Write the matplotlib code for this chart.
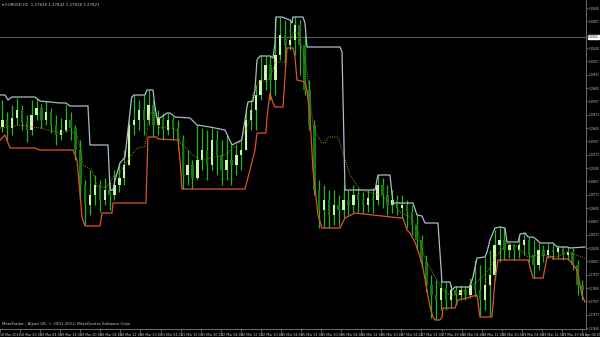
import numpy as np
import matplotlib
matplotlib.use('Agg')
from matplotlib import pyplot as plt

# EURUSD candles, one per 2 hours
opens = [1.2945, 1.2952, 1.2944, 1.2954, 1.2962, 1.2950, 1.2942, 1.2957, 1.2964, 1.2952,
         1.2960, 1.2947, 1.2937, 1.2942, 1.2952, 1.2944, 1.2922, 1.2887, 1.2867, 1.2877,
         1.2887, 1.2872, 1.2882, 1.2877, 1.2887, 1.2894, 1.2907, 1.2947, 1.2952, 1.2962,
         1.2952, 1.2967, 1.2947, 1.2954, 1.2942, 1.2952, 1.2944, 1.2932, 1.2897, 1.2907,
         1.2894, 1.2912, 1.2922, 1.2907, 1.2932, 1.2917, 1.2902, 1.2912, 1.2907, 1.2917,
         1.2922, 1.2952, 1.2962, 1.2977, 1.2992, 1.3007, 1.2992, 1.3017, 1.3037, 1.3027,
         1.3032, 1.3047, 1.3027, 1.2982, 1.2947, 1.2882, 1.2862, 1.2872, 1.2857, 1.2867,
         1.2862, 1.2872, 1.2867, 1.2877, 1.2872, 1.2867, 1.2874, 1.2872, 1.2887, 1.2877,
         1.2867, 1.2872, 1.2864, 1.2867, 1.2860, 1.2847, 1.2832, 1.2810, 1.2787, 1.2777,
         1.2772, 1.2784, 1.2772, 1.2782, 1.2777, 1.2782, 1.2777, 1.2787, 1.2782, 1.2772,
         1.2787, 1.2797, 1.2827, 1.2832, 1.2822, 1.2827, 1.2822, 1.2827, 1.2832, 1.2817,
         1.2807, 1.2822, 1.2817, 1.2822, 1.2820, 1.2824, 1.2817, 1.2820, 1.2807, 1.2787]
closes = [1.2952, 1.2944, 1.2954, 1.2962, 1.2950, 1.2942, 1.2957, 1.2964, 1.2952, 1.2960,
          1.2947, 1.2937, 1.2942, 1.2952, 1.2944, 1.2922, 1.2887, 1.2867, 1.2877, 1.2887,
          1.2872, 1.2882, 1.2877, 1.2887, 1.2894, 1.2907, 1.2947, 1.2952, 1.2962, 1.2952,
          1.2967, 1.2947, 1.2954, 1.2942, 1.2952, 1.2944, 1.2932, 1.2897, 1.2907, 1.2894,
          1.2912, 1.2922, 1.2907, 1.2932, 1.2917, 1.2902, 1.2912, 1.2907, 1.2917, 1.2922,
          1.2952, 1.2962, 1.2977, 1.2992, 1.3007, 1.2992, 1.3017, 1.3037, 1.3027, 1.3032,
          1.3047, 1.3027, 1.2982, 1.2947, 1.2882, 1.2862, 1.2872, 1.2857, 1.2867, 1.2862,
          1.2872, 1.2867, 1.2877, 1.2872, 1.2867, 1.2874, 1.2872, 1.2887, 1.2877, 1.2867,
          1.2872, 1.2864, 1.2867, 1.2860, 1.2847, 1.2832, 1.2810, 1.2787, 1.2777, 1.2772,
          1.2784, 1.2772, 1.2782, 1.2777, 1.2782, 1.2777, 1.2787, 1.2782, 1.2772, 1.2787,
          1.2797, 1.2827, 1.2832, 1.2822, 1.2827, 1.2822, 1.2827, 1.2832, 1.2817, 1.2807,
          1.2822, 1.2817, 1.2822, 1.2820, 1.2824, 1.2817, 1.2820, 1.2807, 1.2787, 1.2782]
highs = [1.2972, 1.2960, 1.2967, 1.2974, 1.2967, 1.2957, 1.2972, 1.2974, 1.2968, 1.2971,
         1.2964, 1.2957, 1.2954, 1.2967, 1.2960, 1.2947, 1.2932, 1.2892, 1.2902, 1.2897,
         1.2892, 1.2894, 1.2890, 1.2902, 1.2909, 1.2922, 1.2952, 1.2977, 1.2972, 1.2977,
         1.2982, 1.2972, 1.2962, 1.2959, 1.2959, 1.2955, 1.2952, 1.2937, 1.2922, 1.2912,
         1.2947, 1.2944, 1.2942, 1.2944, 1.2942, 1.2932, 1.2937, 1.2927, 1.2927, 1.2932,
         1.2962, 1.2972, 1.2987, 1.3016, 1.3016, 1.3017, 1.3055, 1.3055, 1.3052, 1.3052,
         1.3055, 1.3052, 1.3037, 1.2992, 1.2952, 1.2892, 1.2887, 1.2882, 1.2882, 1.2877,
         1.2887, 1.2882, 1.2887, 1.2884, 1.2880, 1.2882, 1.2884, 1.2897, 1.2894, 1.2887,
         1.2882, 1.2877, 1.2877, 1.2872, 1.2867, 1.2857, 1.2837, 1.2817, 1.2797, 1.2792,
         1.2792, 1.2790, 1.2787, 1.2786, 1.2787, 1.2786, 1.2794, 1.2812, 1.2807, 1.2814,
         1.2822, 1.2842, 1.2846, 1.2844, 1.2829, 1.2828, 1.2837, 1.2839, 1.2835, 1.2832,
         1.2829, 1.2827, 1.2829, 1.2828, 1.2827, 1.2826, 1.2825, 1.2824, 1.2812, 1.2792]
lows = [1.2940, 1.2932, 1.2937, 1.2947, 1.2942, 1.2930, 1.2937, 1.2952, 1.2944, 1.2947,
        1.2939, 1.2927, 1.2932, 1.2940, 1.2932, 1.2912, 1.2872, 1.2847, 1.2857, 1.2867,
        1.2860, 1.2867, 1.2862, 1.2872, 1.2880, 1.2887, 1.2907, 1.2937, 1.2942, 1.2937,
        1.2947, 1.2935, 1.2937, 1.2932, 1.2937, 1.2932, 1.2922, 1.2883, 1.2887, 1.2883,
        1.2892, 1.2902, 1.2892, 1.2902, 1.2897, 1.2887, 1.2892, 1.2887, 1.2897, 1.2902,
        1.2922, 1.2942, 1.2942, 1.2972, 1.2982, 1.2972, 1.2977, 1.3012, 1.3007, 1.3022,
        1.3017, 1.2997, 1.2977, 1.2942, 1.2877, 1.2844, 1.2844, 1.2844, 1.2847, 1.2846,
        1.2854, 1.2857, 1.2859, 1.2860, 1.2859, 1.2860, 1.2859, 1.2867, 1.2864, 1.2857,
        1.2859, 1.2857, 1.2854, 1.2844, 1.2837, 1.2822, 1.2804, 1.2780, 1.2754, 1.2752,
        1.2762, 1.2762, 1.2764, 1.2767, 1.2772, 1.2772, 1.2774, 1.2775, 1.2756, 1.2762,
        1.2756, 1.2792, 1.2810, 1.2812, 1.2814, 1.2812, 1.2814, 1.2817, 1.2810, 1.2794,
        1.2802, 1.2810, 1.2814, 1.2813, 1.2814, 1.2812, 1.2812, 1.2802, 1.2777, 1.2772]

# channel lines, (bar, price) turning points
upper_t = [-0.5, 0.53, 1.15, 1.97, 6.69, 7.71, 11.82, 13.05, 13.87, 17.56, 17.97, 21.67, 22.08,
           22.69, 23.10, 24.13, 25.15, 26.53, 27.00, 29.26, 29.67, 30.90, 31.31, 31.72, 32.34,
           33.77, 34.39, 35.41, 38.49, 39.93, 42.59, 45.67, 47.11, 49.10, 49.77, 50.18, 50.39,
           51.41, 51.82, 52.24, 52.85, 54.90, 55.52, 55.93, 56.14, 57.37, 59.01, 59.42, 59.62,
           61.67, 62.08, 62.49, 69.27, 69.68, 70.29, 76.45, 77.06, 79.52, 80.14, 84.24, 85.06,
           86.09, 86.70, 89.37, 90.19, 91.83, 92.24, 92.86, 95.94, 96.55, 97.37, 99.02, 99.43,
           100.04, 101.07, 102.09, 103.12, 103.53, 105.81, 106.21, 107.24, 107.85, 108.88,
           109.70, 110.30, 112.97, 113.79, 115.84, 116.46, 119.53]
upper_p = [1.2977, 1.2977, 1.2972, 1.2975, 1.2975, 1.2971, 1.2969, 1.2969, 1.2966, 1.2966,
           1.2927, 1.2927, 1.2882, 1.2882, 1.2892, 1.2909, 1.2915, 1.2975, 1.2977, 1.2977,
           1.2982, 1.2982, 1.2965, 1.2954, 1.2954, 1.2959, 1.2959, 1.2955, 1.2954, 1.2947,
           1.2945, 1.2942, 1.2927, 1.2932, 1.2952, 1.2965, 1.2970, 1.2971, 1.2982, 1.3012,
           1.3016, 1.3016, 1.3014, 1.3029, 1.3055, 1.3055, 1.3052, 1.3049, 1.3055, 1.3055,
           1.3049, 1.3025, 1.3025, 1.3020, 1.2882, 1.2882, 1.2897, 1.2897, 1.2869, 1.2869,
           1.2857, 1.2856, 1.2849, 1.2849, 1.2790, 1.2790, 1.2782, 1.2785, 1.2785, 1.2795,
           1.2814, 1.2815, 1.2820, 1.2832, 1.2844, 1.2845, 1.2844, 1.2830, 1.2830, 1.2838,
           1.2839, 1.2835, 1.2835, 1.2832, 1.2829, 1.2829, 1.2825, 1.2825, 1.2824, 1.2825]
lower_t = [-0.5, 0.53, 1.56, 6.69, 7.71, 14.49, 15.31, 16.33, 16.95, 20.03, 20.44, 22.49, 22.69,
           29.46, 29.87, 31.72, 31.92, 36.03, 36.44, 36.85, 49.77, 50.80, 51.82, 52.24, 54.08,
           54.29, 54.90, 55.52, 55.93, 57.57, 57.98, 58.39, 59.62, 60.03, 60.44, 62.08, 62.49,
           63.11, 63.73, 64.75, 65.57, 69.27, 70.29, 72.34, 81.57, 82.19, 83.01, 83.63, 84.65,
           85.68, 86.29, 87.11, 87.73, 88.34, 88.75, 89.78, 90.19, 90.40, 92.86, 93.47, 95.32,
           95.94, 97.37, 97.99, 100.45, 101.07, 101.48, 101.69, 107.85, 108.88, 110.93, 111.74,
           112.77, 112.97, 116.05, 116.87, 117.89, 118.92, 119.53]
lower_p = [1.2932, 1.2937, 1.2924, 1.2924, 1.2922, 1.2922, 1.2912, 1.2855, 1.2846, 1.2846,
           1.2859, 1.2859, 1.2869, 1.2869, 1.2935, 1.2935, 1.2933, 1.2932, 1.2912, 1.2883,
           1.2883, 1.2902, 1.2922, 1.2939, 1.2939, 1.2955, 1.2979, 1.2969, 1.2965, 1.2965,
           1.2995, 1.3024, 1.3024, 1.3015, 1.2992, 1.2990, 1.2982, 1.2955, 1.2902, 1.2857,
           1.2844, 1.2844, 1.2854, 1.2859, 1.2854, 1.2854, 1.2842, 1.2839, 1.2830, 1.2815,
           1.2804, 1.2782, 1.2765, 1.2755, 1.2752, 1.2752, 1.2755, 1.2764, 1.2764, 1.2772,
           1.2774, 1.2775, 1.2777, 1.2755, 1.2755, 1.2792, 1.2805, 1.2812, 1.2812, 1.2794,
           1.2794, 1.2815, 1.2815, 1.2813, 1.2813, 1.2809, 1.2802, 1.2777, 1.2770]
mid_t = [-0.5, 3.61, 7.71, 11.82, 13.87, 15.31, 15.92, 16.54, 17.56, 18.38, 19.00, 19.41, 21.48,
         22.08, 22.69, 24.13, 26.18, 27.62, 29.26, 29.87, 30.28, 31.31, 31.72, 32.34, 33.77,
         35.82, 36.44, 37.46, 39.11, 40.54, 42.59, 45.67, 48.75, 50.80, 51.41, 52.85, 54.29,
         55.31, 55.93, 57.98, 58.39, 59.42, 59.62, 60.65, 61.06, 61.67, 62.49, 63.11, 63.73,
         64.55, 65.57, 66.19, 66.80, 68.86, 69.88, 71.32, 73.37, 77.47, 80.55, 81.57, 83.63,
         85.06, 86.29, 87.73, 89.17, 90.40, 91.83, 93.27, 95.32, 97.37, 99.43, 100.66, 101.48,
         102.09, 103.53, 105.58, 107.85, 110.30, 113.79, 115.84, 119.53]
mid_p = [1.2944, 1.2947, 1.2944, 1.2939, 1.2942, 1.2937, 1.2925, 1.2907, 1.2904, 1.2902,
         1.2892, 1.2885, 1.2885, 1.2890, 1.2895, 1.2900, 1.2915, 1.2924, 1.2925, 1.2949,
         1.2959, 1.2959, 1.2949, 1.2944, 1.2945, 1.2942, 1.2929, 1.2925, 1.2917, 1.2912,
         1.2914, 1.2917, 1.2930, 1.2952, 1.2979, 1.2992, 1.2990, 1.2999, 1.3010, 1.3010,
         1.3035, 1.3034, 1.3039, 1.3039, 1.3032, 1.3019, 1.3002, 1.2975, 1.2947, 1.2937,
         1.2929, 1.2929, 1.2935, 1.2935, 1.2919, 1.2897, 1.2882, 1.2877, 1.2867, 1.2860,
         1.2855, 1.2845, 1.2819, 1.2804, 1.2792, 1.2782, 1.2777, 1.2777, 1.2784, 1.2790,
         1.2800, 1.2810, 1.2817, 1.2820, 1.2829, 1.2825, 1.2815, 1.2817, 1.2815, 1.2820, 1.2814]

hline_price = 1.3035
date_labels = ['18 Mar 2013', '18 Mar 20:00', '19 Mar 04:00', '19 Mar 12:00', '19 Mar 20:00',
               '20 Mar 04:00', '20 Mar 12:00', '20 Mar 20:00', '21 Mar 04:00', '21 Mar 12:00',
               '21 Mar 20:00', '22 Mar 04:00', '22 Mar 12:00', '22 Mar 20:00', '25 Mar 04:00',
               '25 Mar 12:00', '25 Mar 20:00', '26 Mar 04:00', '26 Mar 12:00', '26 Mar 20:00',
               '27 Mar 04:00', '27 Mar 12:00', '27 Mar 20:00', '28 Mar 04:00', '28 Mar 12:00',
               '28 Mar 20:00', '29 Mar 04:00', '29 Mar 12:00', '29 Mar 20:00', '1 Apr 04:00']

TXT = '#c8c8c8'
GRID = '#808080'
SMALL = 2.3
PRICE_FS = 1.9

fig = plt.figure(figsize=(6, 3.37), dpi=100, facecolor='black')
ax = fig.add_axes([0, 8 / 337, 586 / 600, 329 / 337], facecolor='black')

o = np.array(opens)
c = np.array(closes)
x = np.arange(len(c))
up = c >= o

ax.vlines(x, lows, highs, color='#22b522', lw=0.9, zorder=2)
body = np.where(np.abs(c - o) < 0.00004, 0.00004, c - o)
ax.bar(x[up], body[up], bottom=o[up], width=0.5, color='#c8f5a8', lw=0, zorder=3)
ax.bar(x[~up], body[~up], bottom=o[~up], width=0.5, color='#0f7a0f', lw=0, zorder=3)

ax.plot(mid_t, mid_p, color='#8c8c00', lw=0.7, ls=(0, (1, 1.2)), zorder=4)
ax.plot(upper_t, upper_p, color='#a8bccb', lw=0.9, zorder=5)
ax.plot(lower_t, lower_p, color='#e0522c', lw=0.9, zorder=5)
ax.axhline(hline_price, color='#6e6e6e', lw=0.6, zorder=1)

ax.set_xlim(-0.49, 119.74)
ax.set_ylim(1.2743, 1.3072)

# price scale on the right
step = 0.0013333
yt = [1.2744 + k * step for k in range(25) if k != 22]
ax.yaxis.tick_right()
ax.set_yticks(yt)
ax.set_yticklabels(['%.5f' % v for v in yt])
ax.tick_params(axis='y', colors=GRID, labelcolor=TXT, labelsize=PRICE_FS, length=1.5, width=0.5, pad=0.3)

# time scale
xt = [-0.49 + j * 4.118 for j in range(len(date_labels))]
ax.set_xticks(xt)
ax.set_xticklabels(date_labels, ha='left')
ax.tick_params(axis='x', colors=GRID, labelcolor=TXT, labelsize=SMALL, length=2, width=0.5, pad=1)

for s in ['top', 'left']:
    ax.spines[s].set_visible(False)
for s in ['right', 'bottom']:
    ax.spines[s].set_color(GRID)
    ax.spines[s].set_linewidth(0.6)

ax.text(588 / 586, hline_price, '%.5f' % hline_price, transform=ax.get_yaxis_transform(),
        fontsize=PRICE_FS, color='black', va='center', ha='left',
        bbox=dict(boxstyle='square,pad=0.1', fc='white', ec='white'))

fig.text(2 / 600, 1 - 5 / 337, '\u25be EURUSD,H1  1.27838 1.27842 1.27818 1.27821',
         fontsize=2.8, color=TXT, va='center', ha='left')
fig.text(2 / 600, 1 - 324 / 337, 'MetaTrader - Alpari UK, \u00a9 2001-2013, MetaQuotes Software Corp.',
         fontsize=2.8, color=TXT, va='center', ha='left')

fig.savefig('out.png', dpi=100, facecolor='black')
